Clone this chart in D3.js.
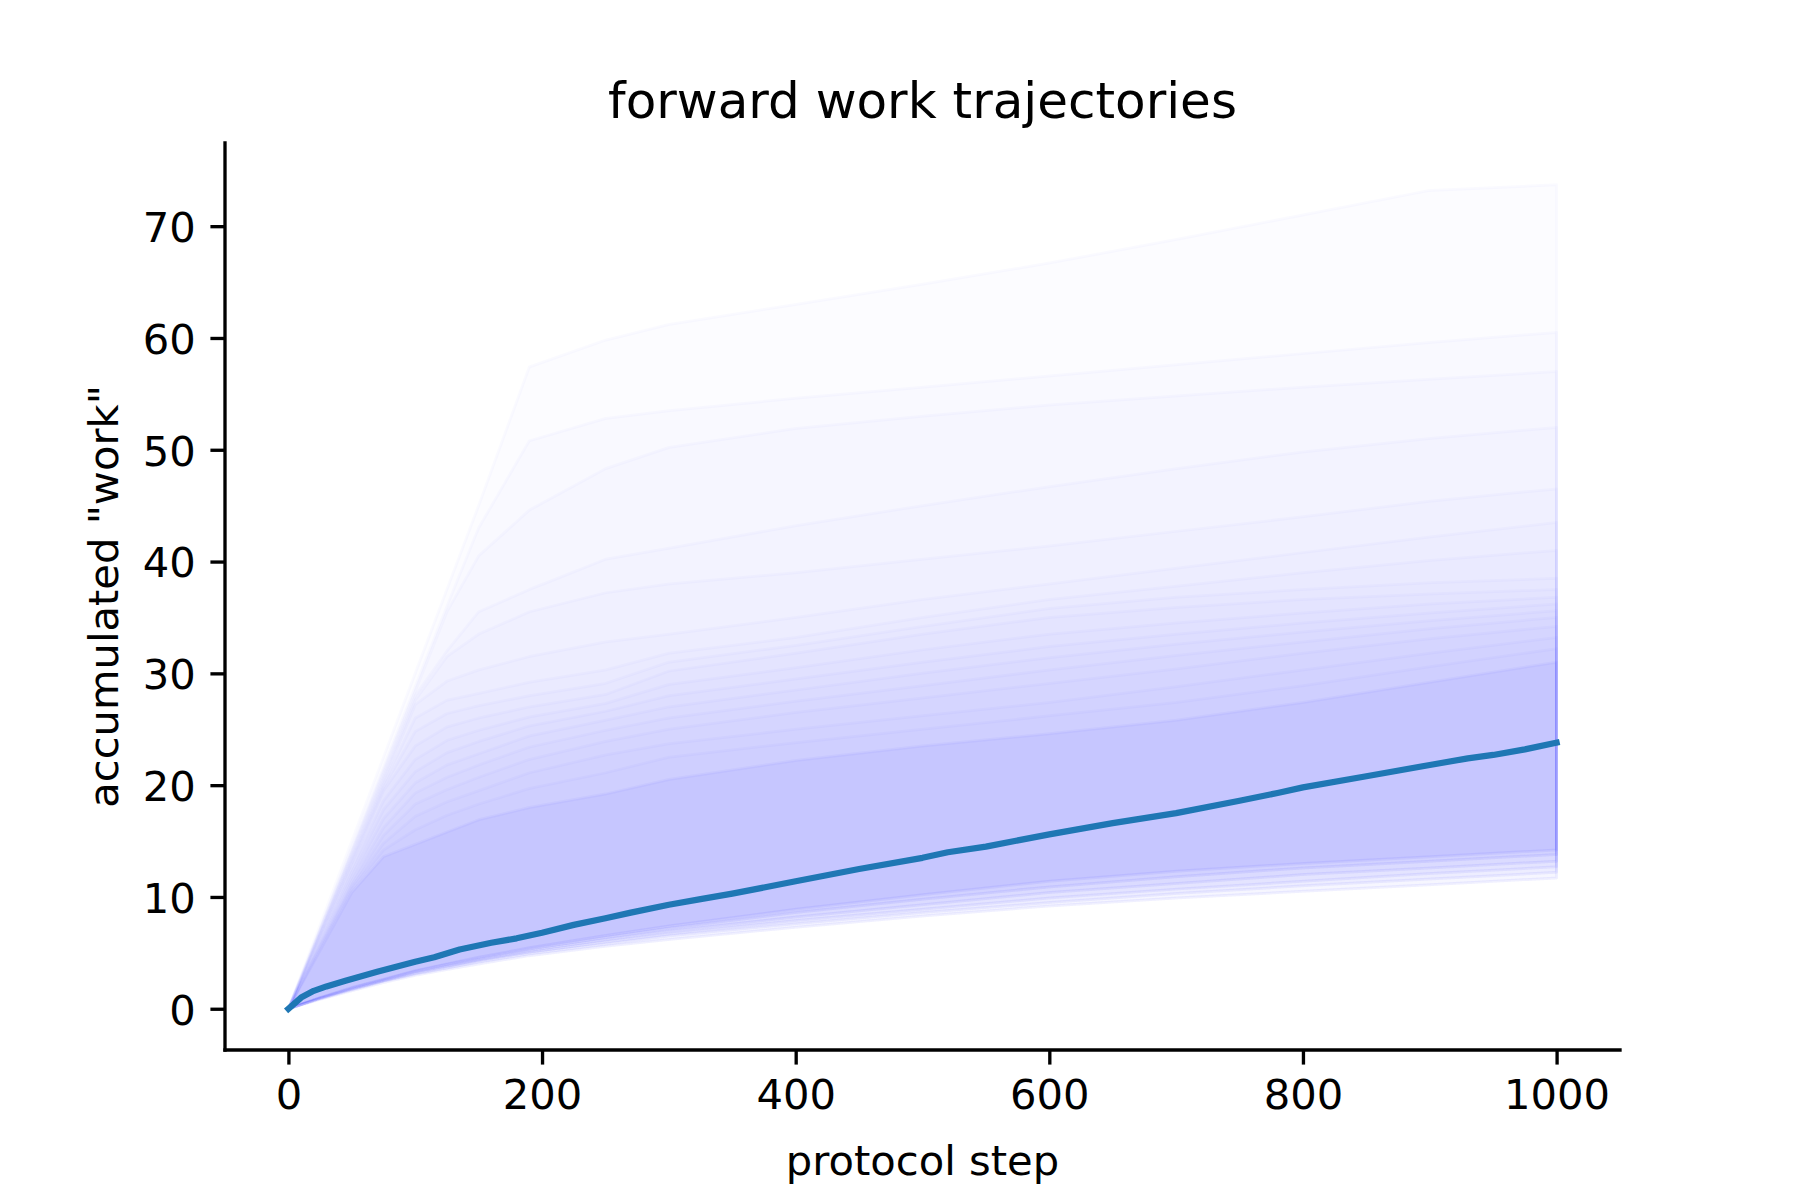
<!DOCTYPE html>
<html>
<head>
<meta charset="utf-8">
<script src="https://cdn.jsdelivr.net/npm/d3@7"></script>
<style>
  html, body { margin: 0; padding: 0; background: #ffffff; }
  svg { display: block; }
</style>
</head>
<body>
<svg id="chart" width="1800" height="1200"></svg>
<script>
// ---------------- data ----------------
const gridSteps = [0, 25, 50, 75, 100, 125, 150, 190, 250, 300, 400, 500, 600, 700, 800, 900, 1000];

// upper edges of the shaded trajectory envelopes (outermost first)
const upper0  = [0, 7.5, 15.0, 22.5, 30.0, 37.5, 45.0, 57.4, 59.8, 61.2, 63.0, 64.8, 66.7, 68.8, 71.0, 73.2, 73.7];
const upper1  = [0, 7.2, 14.4, 21.6, 28.8, 36.0, 43.0, 50.8, 52.8, 53.5, 54.6, 55.6, 56.6, 57.6, 58.6, 59.6, 60.5];
const upper2  = [0, 7.1, 14.2, 21.3, 28.4, 35.5, 40.5, 44.6, 48.3, 50.2, 51.9, 53.0, 54.0, 54.8, 55.6, 56.3, 57.0];
const upper3  = [0, 7.0, 14.0, 21.0, 28.0, 32.0, 35.5, 37.5, 40.2, 41.2, 43.2, 45.0, 46.7, 48.3, 49.8, 51.0, 52.0];
const upper4  = [0, 6.9, 13.8, 20.7, 27.6, 31.5, 33.5, 35.5, 37.2, 38.0, 39.0, 40.2, 41.4, 42.7, 44.0, 45.4, 46.5];
const upper5  = [0, 6.8, 13.6, 20.4, 27.2, 29.3, 30.3, 31.5, 32.8, 33.5, 35.0, 36.6, 38.0, 39.4, 40.8, 42.2, 43.5];
const upper6  = [0, 6.7, 13.4, 20.1, 26.0, 27.6, 28.2, 29.2, 30.3, 31.8, 33.2, 35.0, 36.6, 37.8, 39.0, 40.1, 41.0];
const upper7  = [0, 6.6, 13.2, 19.8, 24.8, 26.4, 27.1, 28.0, 29.1, 31.0, 32.5, 34.2, 35.8, 36.8, 37.5, 38.1, 38.5];
const upper8  = [0, 6.5, 13.0, 19.5, 23.5, 25.2, 26.0, 27.0, 28.1, 30.2, 31.8, 33.5, 35.0, 35.9, 36.6, 37.1, 37.5];
const upper9  = [0, 6.3, 12.6, 18.6, 22.3, 24.0, 24.9, 26.1, 27.3, 29.0, 30.5, 32.1, 33.5, 34.5, 35.4, 36.2, 36.8];
const upper10 = [0, 6.1, 12.2, 17.8, 21.2, 22.9, 23.9, 25.3, 26.6, 28.0, 29.5, 31.0, 32.4, 33.5, 34.5, 35.4, 36.2];
const upper11 = [0, 5.9, 11.8, 17.0, 20.2, 21.8, 22.8, 24.4, 25.8, 27.0, 28.5, 30.0, 31.4, 32.6, 33.7, 34.7, 35.6];
const upper12 = [0, 5.7, 11.4, 16.2, 19.3, 20.7, 21.8, 23.4, 24.9, 26.0, 27.5, 28.9, 30.3, 31.6, 32.8, 34.0, 35.0];
const upper13 = [0, 5.6, 11.1, 15.5, 18.3, 19.6, 20.7, 22.3, 23.9, 25.0, 26.5, 27.8, 29.1, 30.4, 31.8, 33.1, 34.2];
const upper14 = [0, 5.5, 10.9, 14.8, 17.2, 18.5, 19.5, 21.1, 22.7, 23.7, 25.0, 26.2, 27.4, 28.8, 30.3, 31.8, 33.2];
const upper15 = [0, 5.4, 10.7, 14.2, 16.0, 17.3, 18.3, 19.7, 21.1, 22.5, 23.8, 25.0, 26.2, 27.4, 28.9, 30.6, 32.2];
const upper16 = [0, 5.2, 10.4, 13.6, 14.7, 15.8, 16.9, 18.0, 19.2, 20.5, 22.2, 23.5, 24.6, 25.8, 27.4, 29.2, 31.0];
const upperEdges = [upper0, upper1, upper2, upper3, upper4, upper5, upper6, upper7, upper8,
                    upper9, upper10, upper11, upper12, upper13, upper14, upper15, upper16];

// lower edges (outermost first)
const lower0 = [0, 0.85, 1.60, 2.35, 3.00, 3.50, 4.00, 4.75, 5.60, 6.20, 7.30, 8.30, 9.20, 9.90, 10.5, 11.1, 11.7];
const lower1 = [0, 0.90, 1.70, 2.45, 3.10, 3.65, 4.20, 4.95, 5.80, 6.50, 7.60, 8.60, 9.50, 10.3, 11.0, 11.6, 12.2];
const lower2 = [0, 0.92, 1.75, 2.50, 3.20, 3.75, 4.30, 5.05, 6.00, 6.70, 7.90, 8.90, 9.90, 10.7, 11.4, 12.1, 12.7];
const lower3 = [0, 0.95, 1.80, 2.55, 3.30, 3.85, 4.40, 5.20, 6.20, 6.95, 8.20, 9.30, 10.4, 11.2, 12.0, 12.6, 13.2];
const lower4 = [0, 0.98, 1.85, 2.60, 3.35, 3.95, 4.50, 5.35, 6.40, 7.20, 8.60, 9.80, 10.9, 11.8, 12.6, 13.2, 13.8];
const lower5 = [0, 1.00, 1.90, 2.65, 3.40, 4.00, 4.60, 5.45, 6.55, 7.40, 8.90, 10.2, 11.4, 12.3, 13.0, 13.6, 14.2];
const lowerEdges = [lower0, lower1, lower2, lower3, lower4, lower5];
// which lower edge goes with each upper edge
const bandLowerIndex = [0, 0, 0, 1, 1, 1, 2, 2, 2, 3, 3, 3, 4, 4, 4, 5, 5];
// opacity of each band (the innermost envelope is shared by several trajectories)
const bandOpacity = [0.013, 0.013, 0.013, 0.013, 0.013, 0.013, 0.013, 0.013, 0.013,
                     0.013, 0.013, 0.013, 0.013, 0.013, 0.013, 0.013, 0.045];

// mean work trajectory
const meanSteps = [0, 10, 20, 30, 45, 70, 100, 115, 135, 160, 180, 200, 225, 250, 270, 300, 325, 350,
                   400, 450, 500, 520, 550, 600, 650, 700, 750, 780, 800, 850, 900, 930, 950, 975, 1000];
const meanWork  = [0, 1.0, 1.6, 2.0, 2.5, 3.3, 4.2, 4.6, 5.3, 5.9, 6.3, 6.8, 7.5, 8.1, 8.6, 9.3, 9.8, 10.3,
                   11.4, 12.5, 13.5, 14.0, 14.5, 15.6, 16.6, 17.5, 18.6, 19.3, 19.8, 20.8, 21.8, 22.4, 22.7, 23.2, 23.8];

const xTicks = [0, 200, 400, 600, 800, 1000];
const yTicks = [0, 10, 20, 30, 40, 50, 60, 70];

const titleText = "forward work trajectories";
const xLabelText = "protocol step";
const yLabelText = "accumulated \"work\"";

// ---------------- layout ----------------
const W = 1800, H = 1200;
const plot = { left: 225, right: 1620, top: 143, bottom: 1050 };
const pt = 300 / 72;               // 300 dpi points -> px
const tickLen = 3.5 * pt, tickPad = 3.5 * pt, lw = 0.8 * pt;
const fontTick = 10 * pt, fontTitle = 12 * pt;

const svg = d3.select("#chart");
svg.append("rect").attr("width", W).attr("height", H).attr("fill", "#ffffff");

const x = d3.scaleLinear().domain([-50, 1050]).range([plot.left, plot.right]);
const y = d3.scaleLinear().domain([-3.69, 77.44]).range([plot.bottom, plot.top]);

// bands
const bands = upperEdges.map((u, i) => ({ upper: u, lower: lowerEdges[bandLowerIndex[i]], op: bandOpacity[i] }));
const area = d3.area()
  .x((d, i) => x(gridSteps[i]))
  .y0(d => y(d.lo))
  .y1(d => y(d.hi));

const bandG = svg.append("g");
bands.forEach(b => {
  const pts = gridSteps.map((s, i) => ({ lo: b.lower[i], hi: b.upper[i] }));
  bandG.append("path")
    .attr("d", area(pts))
    .attr("fill", "#0000ff")
    .attr("fill-opacity", b.op)
    .attr("stroke", "#0000ff")
    .attr("stroke-opacity", Math.min(b.op * 1.4, 0.03))
    .attr("stroke-width", 3)
    .attr("stroke-linejoin", "round");
});

// mean line
const line = d3.line().x((d, i) => x(meanSteps[i])).y(d => y(d));
svg.append("path")
  .attr("d", line(meanWork))
  .attr("fill", "none")
  .attr("stroke", "#1f77b4")
  .attr("stroke-width", 1.5 * pt)
  .attr("stroke-linecap", "square")
  .attr("stroke-linejoin", "round");

// axes
const fontFamily = "'DejaVu Sans', sans-serif";
const xAxis = d3.axisBottom(x).tickValues(xTicks).tickFormat(d3.format("d"))
  .tickSize(tickLen).tickPadding(tickPad).tickSizeOuter(0);
const yAxis = d3.axisLeft(y).tickValues(yTicks).tickFormat(d3.format("d"))
  .tickSize(tickLen).tickPadding(tickPad).tickSizeOuter(0);

const gx = svg.append("g").attr("transform", `translate(0,${plot.bottom})`).call(xAxis);
const gy = svg.append("g").attr("transform", `translate(${plot.left},0)`).call(yAxis);

[gx, gy].forEach(g => {
  g.attr("font-family", fontFamily).attr("font-size", fontTick);
  g.selectAll(".domain").attr("stroke", "#000").attr("stroke-width", lw).attr("stroke-linecap", "square");
  g.selectAll(".tick line").attr("stroke", "#000").attr("stroke-width", lw);
  g.selectAll(".tick text").attr("fill", "#000");
});
gx.select(".domain").attr("d", `M${plot.left},0H${plot.right}`);
gy.select(".domain").attr("d", `M0,${plot.top}V${plot.bottom}`);
gy.selectAll(".tick text").attr("dy", "0.37em");

// title and labels
svg.append("text")
  .attr("x", (plot.left + plot.right) / 2)
  .attr("y", plot.top - 6 * pt)
  .attr("text-anchor", "middle")
  .attr("font-family", fontFamily)
  .attr("font-size", fontTitle)
  .attr("fill", "#000")
  .text(titleText);

svg.append("text")
  .attr("x", (plot.left + plot.right) / 2)
  .attr("y", 1175)
  .attr("text-anchor", "middle")
  .attr("font-family", fontFamily)
  .attr("font-size", fontTick)
  .attr("fill", "#000")
  .text(xLabelText);

svg.append("text")
  .attr("transform", `translate(118,${(plot.top + plot.bottom) / 2}) rotate(-90)`)
  .attr("text-anchor", "middle")
  .attr("font-family", fontFamily)
  .attr("font-size", fontTick)
  .attr("fill", "#000")
  .text(yLabelText);
</script>
</body>
</html>
